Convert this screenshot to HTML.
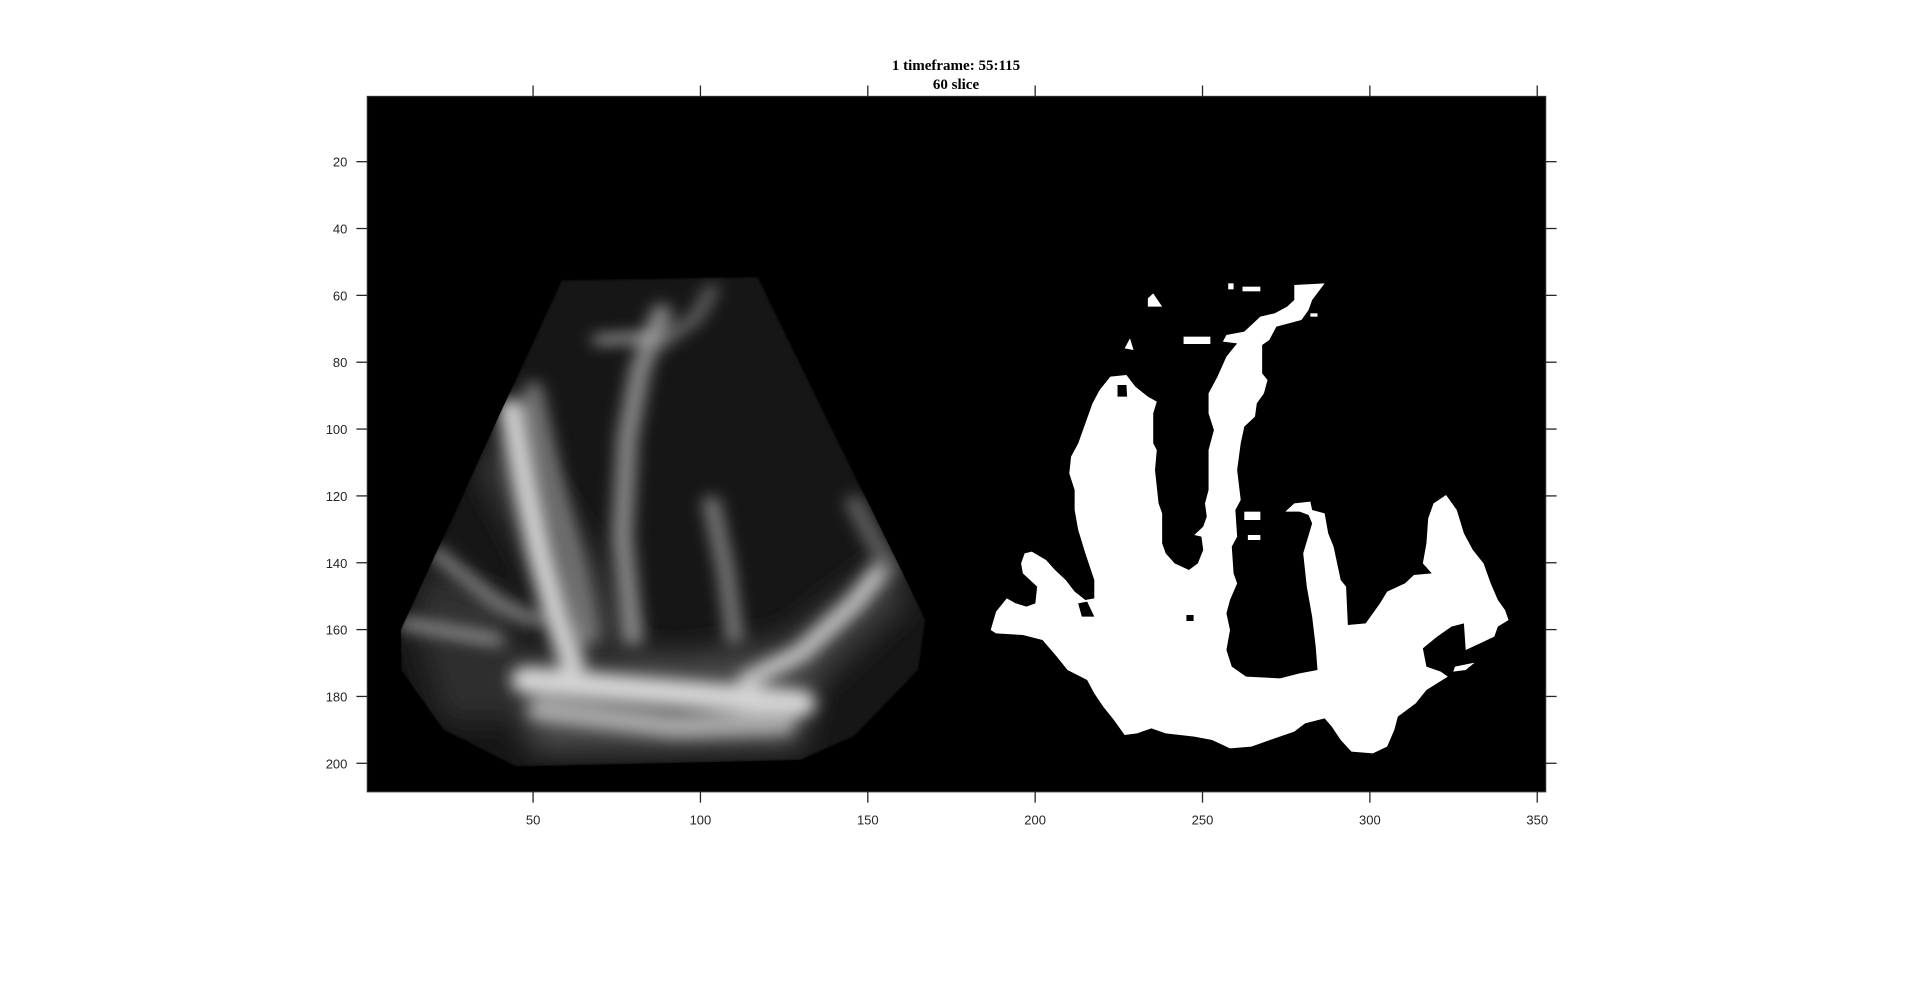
<!DOCTYPE html>
<html><head><meta charset="utf-8"><style>
html,body{margin:0;padding:0;background:#fff;width:1920px;height:1007px;overflow:hidden}
svg{display:block}
</style></head><body>
<svg id="fig" width="1920" height="1007" viewBox="0 0 1920 1007" xmlns="http://www.w3.org/2000/svg">
<defs>
<filter id="b6" filterUnits="userSpaceOnUse" x="-200" y="-200" width="2000" height="2000"><feGaussianBlur stdDeviation="22"/></filter>
<filter id="b9" filterUnits="userSpaceOnUse" x="-200" y="-200" width="2000" height="2000"><feGaussianBlur stdDeviation="40"/></filter>
<filter id="b3" filterUnits="userSpaceOnUse" x="-200" y="-200" width="2000" height="2000"><feGaussianBlur stdDeviation="6"/></filter>
<clipPath id="sector"><path d="M480,30 L1030,20 L1500,1050 L1480,1200 L1300,1400 L1150,1470 L350,1490 L150,1380 L30,1200 L30,1080 Z"/></clipPath>
</defs>
<rect x="367.4" y="96.5" width="1178.2" height="695.2" fill="#000"/>
<g transform="translate(390,270) scale(0.35714,0.33333)">
 <g clip-path="url(#sector)">
  <path d="M480,30 L1030,20 L1500,1050 L1480,1200 L1300,1400 L1150,1470 L350,1490 L150,1380 L30,1200 L30,1080 Z" fill="#181818" filter="url(#b3)"/>
  <g filter="url(#b9)" stroke="none">
   <path d="M250,600 L330,450 L600,900 L700,1200 L1200,1250 L1450,1000 L1400,850 L1100,1100 L800,1150 L500,1100 Z" fill="#3a3a3a"/>
   <path d="M300,1150 L1200,1200 L1150,1440 L400,1450 Z" fill="#4a4a4a"/>
   <path d="M60,1050 L350,1100 L400,1350 L150,1350 Z" fill="#2e2e2e"/>
   <path d="M100,900 L350,1000 L300,1150 L60,1080 Z" fill="#333"/>
  </g>
  <g filter="url(#b6)" fill="none" stroke-linecap="round">
   <path d="M340,420 L380,650 L420,850 L470,1050 L510,1180" stroke="#d0d0d0" stroke-width="70"/>
   <path d="M400,360 L450,600 L520,900 L560,1100" stroke="#7a7a7a" stroke-width="50"/>
   <path d="M760,130 L700,300 L665,500 L650,800 L680,1100" stroke="#8c8c8c" stroke-width="55"/>
   <path d="M900,700 L940,900 L965,1100" stroke="#808080" stroke-width="45"/>
   <path d="M1390,880 L1300,1000 L1150,1150 L1000,1230" stroke="#c0c0c0" stroke-width="55"/>
   <path d="M380,1230 L700,1260 L1150,1300" stroke="#d4d4d4" stroke-width="80"/>
   <path d="M420,1320 L800,1370 L1100,1360" stroke="#a8a8a8" stroke-width="70"/>
   <path d="M130,850 L300,1000 L400,1050" stroke="#808080" stroke-width="40"/>
   <path d="M40,1060 L300,1110" stroke="#909090" stroke-width="35"/>
   <path d="M580,210 L730,200" stroke="#b4b4b4" stroke-width="25"/>
   <path d="M900,60 L860,140 L760,220" stroke="#6a6a6a" stroke-width="35"/>
   <path d="M1300,700 L1400,900" stroke="#606060" stroke-width="50"/>
  </g>
 </g>
</g>
<g transform="translate(980,270) scale(0.35714,0.33333)" fill="#fff">
 <path d="M30,1080 L45,1025 L75,985 L100,1000 L130,1010 L155,1000 L160,950 L120,910 L115,880 L125,850 L145,845 L185,870 L210,900 L240,930 L265,965 L295,990 L320,985 L320,930 L295,850 L275,780 L265,720 L265,660 L250,610 L255,560 L275,520 L295,460 L315,400 L335,360 L365,320 L410,315 L435,350 L470,380 L495,395 L485,430 L485,520 L495,540 L490,600 L500,700 L510,730 L510,820 L520,850 L545,880 L585,900 L610,880 L625,840 L620,800 L600,795 L625,770 L635,740 L630,700 L640,660 L640,540 L655,480 L640,430 L640,370 L665,320 L690,260 L720,220 L680,215 L690,195 L740,185 L785,140 L825,130 L860,110 L880,90 L880,45 L965,40 L930,90 L920,120 L900,150 L830,170 L810,210 L790,225 L790,310 L805,330 L795,370 L775,400 L770,440 L740,470 L730,520 L720,600 L730,690 L715,720 L720,800 L705,830 L710,910 L720,940 L700,990 L690,1030 L700,1080 L690,1140 L705,1190 L745,1220 L840,1225 L895,1210 L945,1200 L940,1130 L930,1040 L915,950 L905,850 L930,760 L920,735 L895,725 L855,725 L880,700 L925,695 L930,720 L965,730 L975,790 L990,830 L1000,880 L1010,930 L1025,950 L1030,1065 L1080,1060 L1100,1030 L1120,1000 L1140,965 L1190,940 L1215,915 L1265,910 L1240,880 L1250,820 L1255,745 L1270,700 L1305,675 L1335,720 L1355,790 L1380,840 L1410,880 L1430,940 L1450,990 L1470,1020 L1480,1050 L1450,1070 L1440,1100 L1400,1120 L1360,1140 L1355,1060 L1320,1070 L1280,1100 L1240,1135 L1250,1190 L1290,1205 L1310,1220 L1250,1260 L1220,1300 L1170,1340 L1160,1380 L1140,1430 L1100,1450 L1040,1445 L1010,1410 L985,1370 L965,1345 L910,1360 L880,1385 L825,1405 L760,1430 L700,1435 L650,1410 L600,1400 L520,1390 L480,1375 L440,1390 L405,1395 L375,1350 L345,1310 L320,1270 L300,1230 L245,1200 L215,1160 L175,1110 L120,1095 L45,1090 Z"/>
 <path d="M385,345 L410,345 L412,380 L385,380 Z" fill="#000"/>
 <path d="M275,1000 L300,995 L320,1040 L285,1040 Z" fill="#000"/>
 <rect x="578" y="1035" width="20" height="18" fill="#000"/>
 <path d="M470,85 L485,70 L510,110 L470,110 Z"/>
 <path d="M405,235 L420,205 L430,240 Z"/>
 <rect x="570" y="200" width="75" height="22"/>
 <rect x="735" y="50" width="50" height="14"/>
 <rect x="695" y="40" width="15" height="18"/>
 <rect x="740" y="725" width="45" height="25"/>
 <rect x="750" y="795" width="35" height="15"/>
 <rect x="925" y="130" width="20" height="10"/>
 <path d="M1330,1190 L1385,1178 L1360,1200 L1325,1205 Z"/>
</g>
<rect x="367.4" y="96.5" width="1178.2" height="695.2" fill="none" stroke="#262626" stroke-width="1.3"/>
<g id="ticks" stroke="#262626" stroke-width="1.3"></g>
<g id="labels" font-family="'Liberation Sans', sans-serif" font-size="13" fill="#262626"></g>
<text x="956" y="70" text-anchor="middle" font-family="'Liberation Serif', serif" font-weight="bold" font-size="15" fill="#000">1 timeframe: 55:115</text>
<text x="956" y="89" text-anchor="middle" font-family="'Liberation Serif', serif" font-weight="bold" font-size="15" fill="#000">60 slice</text>
</svg>
<script>
const xTicks = [50, 100, 150, 200, 250, 300, 350];
const yTicks = [20, 40, 60, 80, 100, 120, 140, 160, 180, 200];
const xDomain = [0.5, 352.5];
const yDomain = [0.5, 208.5];
const L = 367.4, R = 1545.6, T = 96.5, B = 791.7;
function xs(v){ return L + (v - xDomain[0]) / (xDomain[1] - xDomain[0]) * (R - L); }
function ys(v){ return T + (v - yDomain[0]) / (yDomain[1] - yDomain[0]) * (B - T); }
const NS = 'http://www.w3.org/2000/svg';
const tg = document.getElementById('ticks');
const lg = document.getElementById('labels');
function line(x1,y1,x2,y2,name){
  const l = document.createElementNS(NS,'line');
  l.setAttribute('x1',x1); l.setAttribute('y1',y1); l.setAttribute('x2',x2); l.setAttribute('y2',y2);
  
  
  tg.appendChild(l);
}
function label(x,y,txt,anchor,name){
  const t = document.createElementNS(NS,'text');
  t.setAttribute('x',x); t.setAttribute('y',y); t.setAttribute('text-anchor',anchor);
  t.textContent = txt;
  
  
  lg.appendChild(t);
}
xTicks.forEach(v => {
  const x = xs(v);
  line(x, T, x, T - 11, 'x-tick-top');
  line(x, B, x, B + 11, 'x-tick-bottom');
  label(x, B + 33, String(v), 'middle', 'x-tick-label');
});
yTicks.forEach(v => {
  const y = ys(v);
  line(L, y, L - 11, y, 'y-tick-left');
  line(R, y, R + 11, y, 'y-tick-right');
  label(L - 20, y + 5, String(v), 'end', 'y-tick-label');
});
</script>
</body></html>
